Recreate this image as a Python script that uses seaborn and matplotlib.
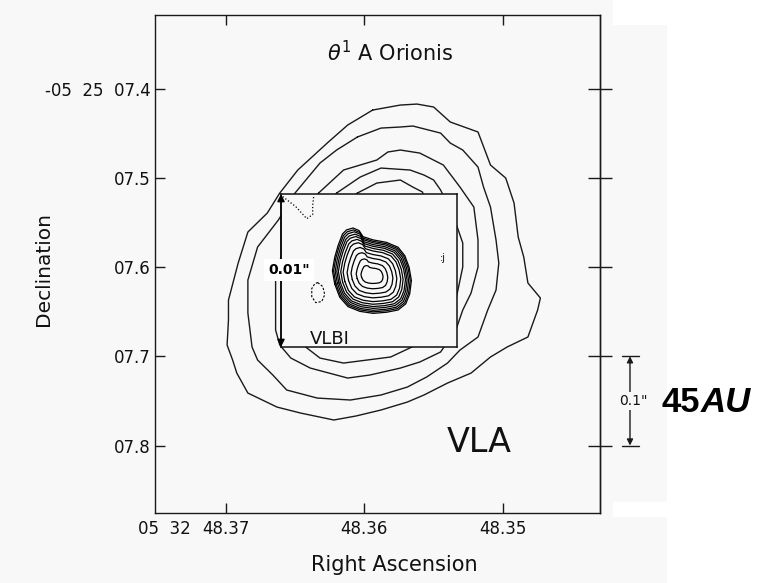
import numpy as np
import pandas as pd
import seaborn as sns
import matplotlib.pyplot as plt
from matplotlib.patches import Rectangle
from matplotlib import transforms

# VLA contours (RA seconds of 05h32m, Dec arcsec of -05d25m)
ra1 = [48.3594, 48.3574, 48.3562, 48.3550, 48.3538, 48.3518, 48.3509, 48.3498, 48.3492, 48.3489,
       48.3485, 48.3482, 48.3473, 48.3475, 48.3482, 48.3497, 48.3509, 48.3523, 48.3540, 48.3557,
       48.3569, 48.3588, 48.3606, 48.3622, 48.3646, 48.3663, 48.3684, 48.3692, 48.3695, 48.3699,
       48.3698, 48.3698, 48.3691, 48.3684, 48.3670, 48.3661, 48.3648, 48.3626, 48.3612]
dec1 = [7.4241, 7.4185, 7.4174, 7.4207, 7.4375, 7.4487, 7.4857, 7.5003, 7.5283, 7.5664,
        7.5888, 7.6179, 7.6347, 7.6482, 7.6784, 7.6896, 7.7008, 7.7188, 7.7300, 7.7434,
        7.7513, 7.7602, 7.7669, 7.7714, 7.7636, 7.7569, 7.7412, 7.7188, 7.7042, 7.6874,
        7.6594, 7.6370, 7.5955, 7.5608, 7.5395, 7.5171, 7.4913, 7.4600, 7.4409]
ra2 = [48.3605, 48.3588, 48.3574, 48.3565, 48.3545, 48.3538, 48.3529, 48.3518, 48.3514, 48.3509,
       48.3505, 48.3503, 48.3505, 48.3511, 48.3518, 48.3531, 48.3540, 48.3555, 48.3569, 48.3588,
       48.3610, 48.3634, 48.3656, 48.3666, 48.3677, 48.3681, 48.3684, 48.3684, 48.3677, 48.3662,
       48.3650, 48.3632, 48.3620]
dec2 = [7.4543, 7.4443, 7.4431, 7.4420, 7.4499, 7.4611, 7.4689, 7.4880, 7.5104, 7.5328,
        7.5697, 7.5955, 7.6258, 7.6482, 7.6784, 7.6930, 7.7076, 7.7232, 7.7345, 7.7434,
        7.7490, 7.7468, 7.7378, 7.7210, 7.7042, 7.6896, 7.6515, 7.6146, 7.5776, 7.5473,
        7.5171, 7.4835, 7.4689]
ra3 = [48.3633, 48.3615, 48.3591, 48.3583, 48.3574, 48.3560, 48.3543, 48.3531, 48.3521, 48.3518,
       48.3518, 48.3523, 48.3529, 48.3534, 48.3545, 48.3560, 48.3574, 48.3596, 48.3612, 48.3639,
       48.3653, 48.3661, 48.3664, 48.3664, 48.3664, 48.3659, 48.3648]
dec3 = [7.5171, 7.4913, 7.4801, 7.4711, 7.4689, 7.4723, 7.4857, 7.5104, 7.5328, 7.5697,
        7.6000, 7.6291, 7.6482, 7.6706, 7.6952, 7.7064, 7.7132, 7.7210, 7.7244, 7.7132,
        7.7020, 7.6874, 7.6706, 7.6515, 7.6146, 7.5810, 7.5473]
ra4 = [48.3620, 48.3603, 48.3588, 48.3567, 48.3557, 48.3550, 48.3545, 48.3536, 48.3529, 48.3529,
       48.3534, 48.3552, 48.3581, 48.3615, 48.3632, 48.3646, 48.3652, 48.3646, 48.3635]
dec4 = [7.5171, 7.4992, 7.4891, 7.4913, 7.4969, 7.5025, 7.5137, 7.5417, 7.5731, 7.6000,
        7.6370, 7.6796, 7.7008, 7.7076, 7.7020, 7.6852, 7.6370, 7.5810, 7.5417]
ra5 = [48.3605, 48.3591, 48.3574, 48.3565, 48.3558, 48.3551, 48.3560, 48.3588, 48.3617, 48.3625, 48.3614]
dec5 = [7.5171, 7.5059, 7.5025, 7.5104, 7.5160, 7.5585, 7.6370, 7.6706, 7.6482, 7.5810, 7.5305]

# VLBI map (offsets in mas from the peak), outer contour and level scalings
vlbi_x = [2.29, 2.44, 2.29, 2.07, 1.78, 1.52, 1.09, 0.70, 0.44, -0.22, -1.09, -1.85,
          -2.29, -2.57, -2.72, -2.61, -2.35, -1.85, -1.09, -0.22, 0.65, 1.42, 1.96]
vlbi_y = [-0.48, 0.39, 1.26, 2.03, 2.79, 3.05, 3.18, 3.01, 2.61, 2.40, 2.24, 1.92,
          1.37, 0.61, -0.26, -1.13, -1.78, -2.18, -2.33, -2.40, -2.27, -1.96, -1.35]
peak_x, peak_y = -0.15, 0.07
level_sx = [1.00, 0.97, 0.93, 0.89, 0.85, 0.79, 0.73, 0.63, 0.53, 0.40, 0.28]
level_sy = [1.00, 0.96, 0.92, 0.87, 0.82, 0.76, 0.69, 0.59, 0.48, 0.35, 0.21]
dot_x = [5.69, 4.84, 4.12, 3.73, 3.73, 3.66]
dot_y = [5.23, 4.58, 3.79, 4.05, 4.64, 5.29]
neg_x = [3.40, 3.07, 2.94, 3.14, 3.53, 3.79, 3.79, 3.59, 3.40]
neg_y = [-0.39, -0.65, -1.18, -1.63, -1.70, -1.31, -0.78, -0.46, -0.39]

dec_ticks = [7.4, 7.5, 7.6, 7.7, 7.8]
dec_labels = ['-05  25  07.4', '07.5', '07.6', '07.7', '07.8']
ra_ticks = [48.37, 48.36, 48.35]
ra_labels = ['48.37', '48.36', '48.35']

sns.set_theme(style='white')
plt.rcParams['font.family'] = ['DejaVu Sans']
plt.rcParams['text.color'] = '#111111'
bg = '#f8f8f8'
ink = '#1a1a1a'

rows = []
for lev, (r, d) in enumerate([(ra1, dec1), (ra2, dec2), (ra3, dec3), (ra4, dec4), (ra5, dec5)]):
    for i, (a, b) in enumerate(list(zip(r, d)) + [(r[0], d[0])]):
        rows.append({'level': lev, 'i': i, 'ra': a, 'dec': b})
vla = pd.DataFrame(rows)

rows = []
vx = np.array(vlbi_x + vlbi_x[:1])
vy = np.array(vlbi_y + vlbi_y[:1])
for lev, (sx, sy) in enumerate(zip(level_sx, level_sy)):
    xs = peak_x + (vx - peak_x) * sx
    ys = peak_y + (vy - peak_y) * sy
    for i in range(len(xs)):
        rows.append({'level': lev, 'i': i, 'x': xs[i], 'y': ys[i]})
vlbi = pd.DataFrame(rows)

fig = plt.figure(figsize=(7.57, 5.83), dpi=100)
fig.patch.set_facecolor('white')
fig.add_artist(Rectangle((0, 0), 667 / 757, 1, transform=fig.transFigure,
                         facecolor=bg, edgecolor='none', zorder=-10))
fig.add_artist(Rectangle((613 / 757, 1 - 25 / 583), 54 / 757, 25 / 583, transform=fig.transFigure,
                         facecolor='white', edgecolor='none', zorder=-9))
fig.add_artist(Rectangle((613 / 757, 1 - 517 / 583), 54 / 757, 15 / 583, transform=fig.transFigure,
                         facecolor='white', edgecolor='none', zorder=-9))

ax = fig.add_axes([155 / 757, 1 - 513 / 583, 445 / 757, 498 / 583])
ax.set_facecolor(bg)
sns.lineplot(data=vla, x='ra', y='dec', units='level', estimator=None, sort=False,
             color=ink, linewidth=1.0, ax=ax)
ax.set_xlim(48.3751, 48.3430)
ax.set_ylim(7.8756, 7.3176)
ax.set_xlabel('')
ax.set_ylabel('')
for s in ax.spines.values():
    s.set_color(ink)
    s.set_linewidth(1.0)

ax.set_xticks(ra_ticks)
ax.set_xticklabels(ra_labels, fontsize=12)
ax.set_yticks(dec_ticks)
ax.set_yticklabels(dec_labels, fontsize=12)
ax.tick_params(axis='x', direction='in', top=True, bottom=True, length=7, width=1, pad=5,
               color=ink, labelcolor='#111111')
ax.tick_params(axis='y', direction='in', left=True, right=False, length=7, width=1, pad=3,
               color=ink, labelcolor='#111111')
axr = ax.secondary_yaxis('right')
axr.set_yticks(dec_ticks)
axr.tick_params(direction='inout', length=17, width=1, labelright=False, color=ink)
axr.spines['right'].set_linewidth(1.0)
axr.spines['right'].set_color(ink)
ax.annotate('05  32', xy=(48.37, 0), xycoords=('data', 'axes fraction'),
            xytext=(-25.5, -5), textcoords='offset points', ha='right', va='top', fontsize=12)

fig.text(390 / 757, 1 - 53 / 583, r'$\theta^{1}$ A Orionis', fontsize=15, ha='center', va='center')
fig.text(43.5 / 757, 1 - 269 / 583, 'Declination', fontsize=14.5, rotation=90, ha='center', va='center')
fig.text(394 / 757, 1 - 565 / 583, 'Right Ascension', fontsize=15, ha='center', va='center')

ax.text((447 - 155) / 445, (513 - 452) / 498, 'VLA', fontsize=24, ha='left', va='baseline',
        transform=ax.transAxes)

# 0.1" scale bar on the right
tr = transforms.blended_transform_factory(ax.transAxes, ax.transData)
ax.annotate('', xy=(1.0674, 7.7), xytext=(1.0674, 7.8), xycoords=tr,
            arrowprops=dict(arrowstyle='<|-|>', color=ink, lw=1.0, mutation_scale=9,
                            shrinkA=0, shrinkB=0), annotation_clip=False)
for yv in [7.7, 7.8]:
    ax.plot([1.049, 1.088], [yv, yv], color=ink, lw=1.0, transform=tr, clip_on=False)
ax.text(1.074, 7.7497, '0.1"', fontsize=10, ha='center', va='center', transform=tr,
        bbox=dict(facecolor=bg, edgecolor='none', boxstyle='square,pad=0.15'))
ax.text(1.139, (513 - 412) / 498, '45', fontsize=25, fontweight='bold', family='Liberation Sans',
        color='black', ha='left', va='baseline', transform=ax.transAxes)
ax.text(1.227, (513 - 412) / 498, 'AU', fontsize=25, fontweight='bold', fontstyle='italic',
        family='Liberation Sans', color='black', ha='left', va='baseline', transform=ax.transAxes)

# VLBI inset
axin = fig.add_axes([281 / 757, 1 - 347 / 583, 176 / 757, 153 / 583])
axin.set_facecolor(bg)
sns.lineplot(data=vlbi, x='x', y='y', units='level', estimator=None, sort=False,
             color='black', linewidth=0.9, ax=axin)
axin.plot(dot_x, dot_y, color='black', lw=0.9, ls=':')
axin.plot(neg_x, neg_y, color='black', lw=0.8, ls=(0, (2, 1.5)))
axin.set_xlim(5.8, -5.7)
axin.set_ylim(-4.6, 5.4)
axin.set_xticks([])
axin.set_yticks([])
axin.set_xlabel('')
axin.set_ylabel('')
for s in axin.spines.values():
    s.set_color('#111111')
    s.set_linewidth(1.1)
axin.annotate('', xy=(0, 1), xytext=(0, 0), xycoords='axes fraction',
              arrowprops=dict(arrowstyle='<|-|>', color='black', lw=1.0, mutation_scale=11,
                              shrinkA=0, shrinkB=0), annotation_clip=False)
axin.text(0.165, 0.02, 'VLBI', fontsize=13, ha='left', va='baseline', transform=axin.transAxes)
axin.text(0.9, 0.58, ':j', fontsize=7, ha='left', va='center', transform=axin.transAxes)
fig.text(289 / 757, 1 - 270 / 583, '0.01"', fontsize=10, fontweight='bold', ha='center', va='center',
         color='black', bbox=dict(facecolor='white', edgecolor='none', boxstyle='square,pad=0.3'))

fig.savefig('out.png', dpi=100, facecolor=fig.get_facecolor())
